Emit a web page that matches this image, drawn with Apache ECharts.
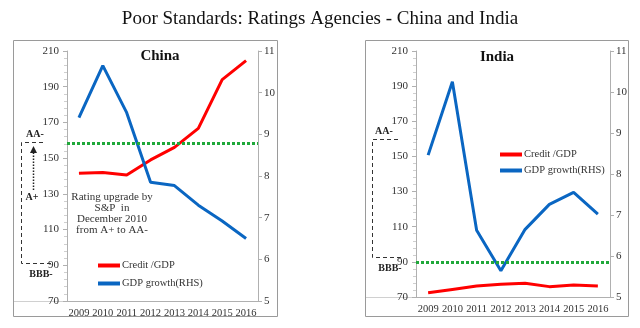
<!DOCTYPE html>
<html><head><meta charset="utf-8">
<script src="https://cdn.jsdelivr.net/npm/echarts@6/dist/echarts.min.js"></script>
<style>html,body{margin:0;padding:0;background:#fff}#c{width:640px;height:328px}</style>
</head><body><div id="c"></div>
<script>
var years = ['2009','2010','2011','2012','2013','2014','2015','2016'];
var chinaCredit = [141.5, 142, 140.6, 149, 156, 166.7, 194, 204.6];
var chinaGrowth = [9.4, 10.65, 9.52, 7.85, 7.77, 7.3, 6.92, 6.5];
var indiaCredit = [72.4, 74.3, 76.2, 77.2, 77.8, 75.9, 76.8, 76.2];
var indiaGrowth = [8.46, 10.25, 6.63, 5.64, 6.65, 7.26, 7.55, 7.02];
var chinaRating = 158.3;
var indiaRating = 90;
var leftTicks = {min: 70, max: 210, interval: 20};
var rightTicks = {min: 5, max: 11, interval: 1};

var serif = '"Liberation Serif", "DejaVu Serif", serif';
var RED = '#ff0000', BLUE = '#0a66c2', GREEN = '#1fa83a', AX = '#b0b0b0', TXT = '#333';

function xAx(gi){
  return {type:'category', gridIndex:gi, data:years, boundaryGap:true,
    axisLine:{show:true, lineStyle:{color:AX}}, axisTick:{show:false},
    axisLabel:{fontFamily:serif, fontSize:10.5, color:TXT, margin:7, interval:0, hideOverlap:false}};
}
function yAx(gi, t, pos){
  return {type:'value', gridIndex:gi, position:pos, min:t.min, max:t.max, interval:t.interval,
    axisLine:{show:true, lineStyle:{color:AX}},
    axisTick:{show:true, length:4, lineStyle:{color:AX}},
    minorTick:{show:pos==='left', splitNumber:5, length:3, lineStyle:{color:'#cfcfcf'}},
    splitLine:{show:false},
    axisLabel:{fontFamily:serif, fontSize:11, color:TXT, margin:pos==='left'?8:6}};
}
function mk(val){
  return {silent:true, symbol:['none','none'], label:{show:false},
    lineStyle:{color:GREEN, width:3, type:[3,2]}, data:[{yAxis:val}]};
}

var chart = echarts.init(document.getElementById('c'), null, {renderer:'canvas'});
chart.setOption({
  animation:false,
  title:[
    {text:'Poor Standards: Ratings Agencies - China and India', left:'center', top:5,
      textStyle:{fontFamily:serif, fontSize:19, fontWeight:'normal', color:'#111'}},
    {text:'China', left:155, textAlign:'center', top:44,
      textStyle:{fontFamily:serif, fontSize:15, fontWeight:'bold', color:'#111'}},
    {text:'India', left:492, textAlign:'center', top:45,
      textStyle:{fontFamily:serif, fontSize:15, fontWeight:'bold', color:'#111'}}
  ],
  grid:[
    {left:67, right:382, top:51, bottom:27},
    {left:416, right:30, top:51, bottom:31}
  ],
  xAxis:[xAx(0), xAx(1)],
  yAxis:[yAx(0,leftTicks,'left'), yAx(0,rightTicks,'right'), yAx(1,leftTicks,'left'), yAx(1,rightTicks,'right')],
  legend:[
    {orient:'vertical', left:98, top:260, itemWidth:22, itemHeight:4, itemGap:7, icon:'rect', padding:0,
      data:['Credit /GDP','GDP growth(RHS)'], selectedMode:false,
      textStyle:{fontFamily:serif, fontSize:10.5, color:TXT, padding:[0,0,0,-3]}},
    {orient:'vertical', left:500, top:149, itemWidth:22, itemHeight:4, itemGap:5, icon:'rect', padding:0,
      data:['Credit /GDP','GDP growth(RHS)'], selectedMode:false,
      textStyle:{fontFamily:serif, fontSize:10.5, color:TXT, padding:[0,0,0,-3]}}
  ],
  series:[
    {name:'Credit /GDP', type:'line', xAxisIndex:0, yAxisIndex:0, data:chinaCredit, symbol:'none',
      lineStyle:{color:RED, width:3}, itemStyle:{color:RED}, markLine:mk(chinaRating), z:3},
    {name:'GDP growth(RHS)', type:'line', xAxisIndex:0, yAxisIndex:1, data:chinaGrowth, symbol:'none',
      lineStyle:{color:BLUE, width:3}, itemStyle:{color:BLUE}, z:3},
    {name:'Credit /GDP', type:'line', xAxisIndex:1, yAxisIndex:2, data:indiaCredit, symbol:'none',
      lineStyle:{color:RED, width:3}, itemStyle:{color:RED}, markLine:mk(indiaRating), z:3},
    {name:'GDP growth(RHS)', type:'line', xAxisIndex:1, yAxisIndex:3, data:indiaGrowth, symbol:'none',
      lineStyle:{color:BLUE, width:3}, itemStyle:{color:BLUE}, z:3}
  ],
  graphic:[
    {type:'rect', shape:{x:13.5, y:40.5, width:264, height:276}, style:{fill:null, stroke:'#9a9a9a', lineWidth:1}, silent:true},
    {type:'rect', shape:{x:365.5, y:40.5, width:263, height:276}, style:{fill:null, stroke:'#9a9a9a', lineWidth:1}, silent:true},
    {type:'line', shape:{x1:14, y1:301.5, x2:67, y2:301.5}, style:{stroke:'#d0d0d0', lineWidth:1}, silent:true},
    {type:'line', shape:{x1:366, y1:297.5, x2:416, y2:297.5}, style:{stroke:'#d0d0d0', lineWidth:1}, silent:true},
    {type:'text', style:{text:'AA-', x:35, y:134, align:'center', verticalAlign:'middle', font:'bold 10px '+serif, fill:'#222'}},
    {type:'polyline', shape:{points:[[43,142.5],[21.5,142.5],[21.5,263.5],[52,263.5]]}, style:{fill:null, stroke:'#333', lineWidth:1, lineDash:[4,3]}, silent:true},
    {type:'line', shape:{x1:33.5, y1:190, x2:33.5, y2:152}, style:{stroke:'#222', lineWidth:1.5, lineDash:[1.5,1.5]}, silent:true},
    {type:'polygon', shape:{points:[[30,153],[37,153],[33.5,146]]}, style:{fill:'#222'}, silent:true},
    {type:'text', style:{text:'A+', x:32, y:197, align:'center', verticalAlign:'middle', font:'bold 10px '+serif, fill:'#222'}},
    {type:'text', style:{text:'BBB-', x:41, y:274, align:'center', verticalAlign:'middle', font:'bold 10px '+serif, fill:'#222'}},
    {type:'text', style:{text:'Rating upgrade by\nS&P  in\nDecember 2010\nfrom A+ to AA-', x:112, y:191, align:'center', verticalAlign:'top', font:'11px '+serif, lineHeight:11.3, fill:'#333'}},
    {type:'text', style:{text:'AA-', x:384, y:131, align:'center', verticalAlign:'middle', font:'bold 10px '+serif, fill:'#222'}},
    {type:'polyline', shape:{points:[[398,139.5],[372.5,139.5],[372.5,257.5],[401,257.5]]}, style:{fill:null, stroke:'#333', lineWidth:1, lineDash:[4,3]}, silent:true},
    {type:'text', style:{text:'BBB-', x:390, y:268, align:'center', verticalAlign:'middle', font:'bold 10px '+serif, fill:'#222'}}
  ]
});
</script></body></html>
